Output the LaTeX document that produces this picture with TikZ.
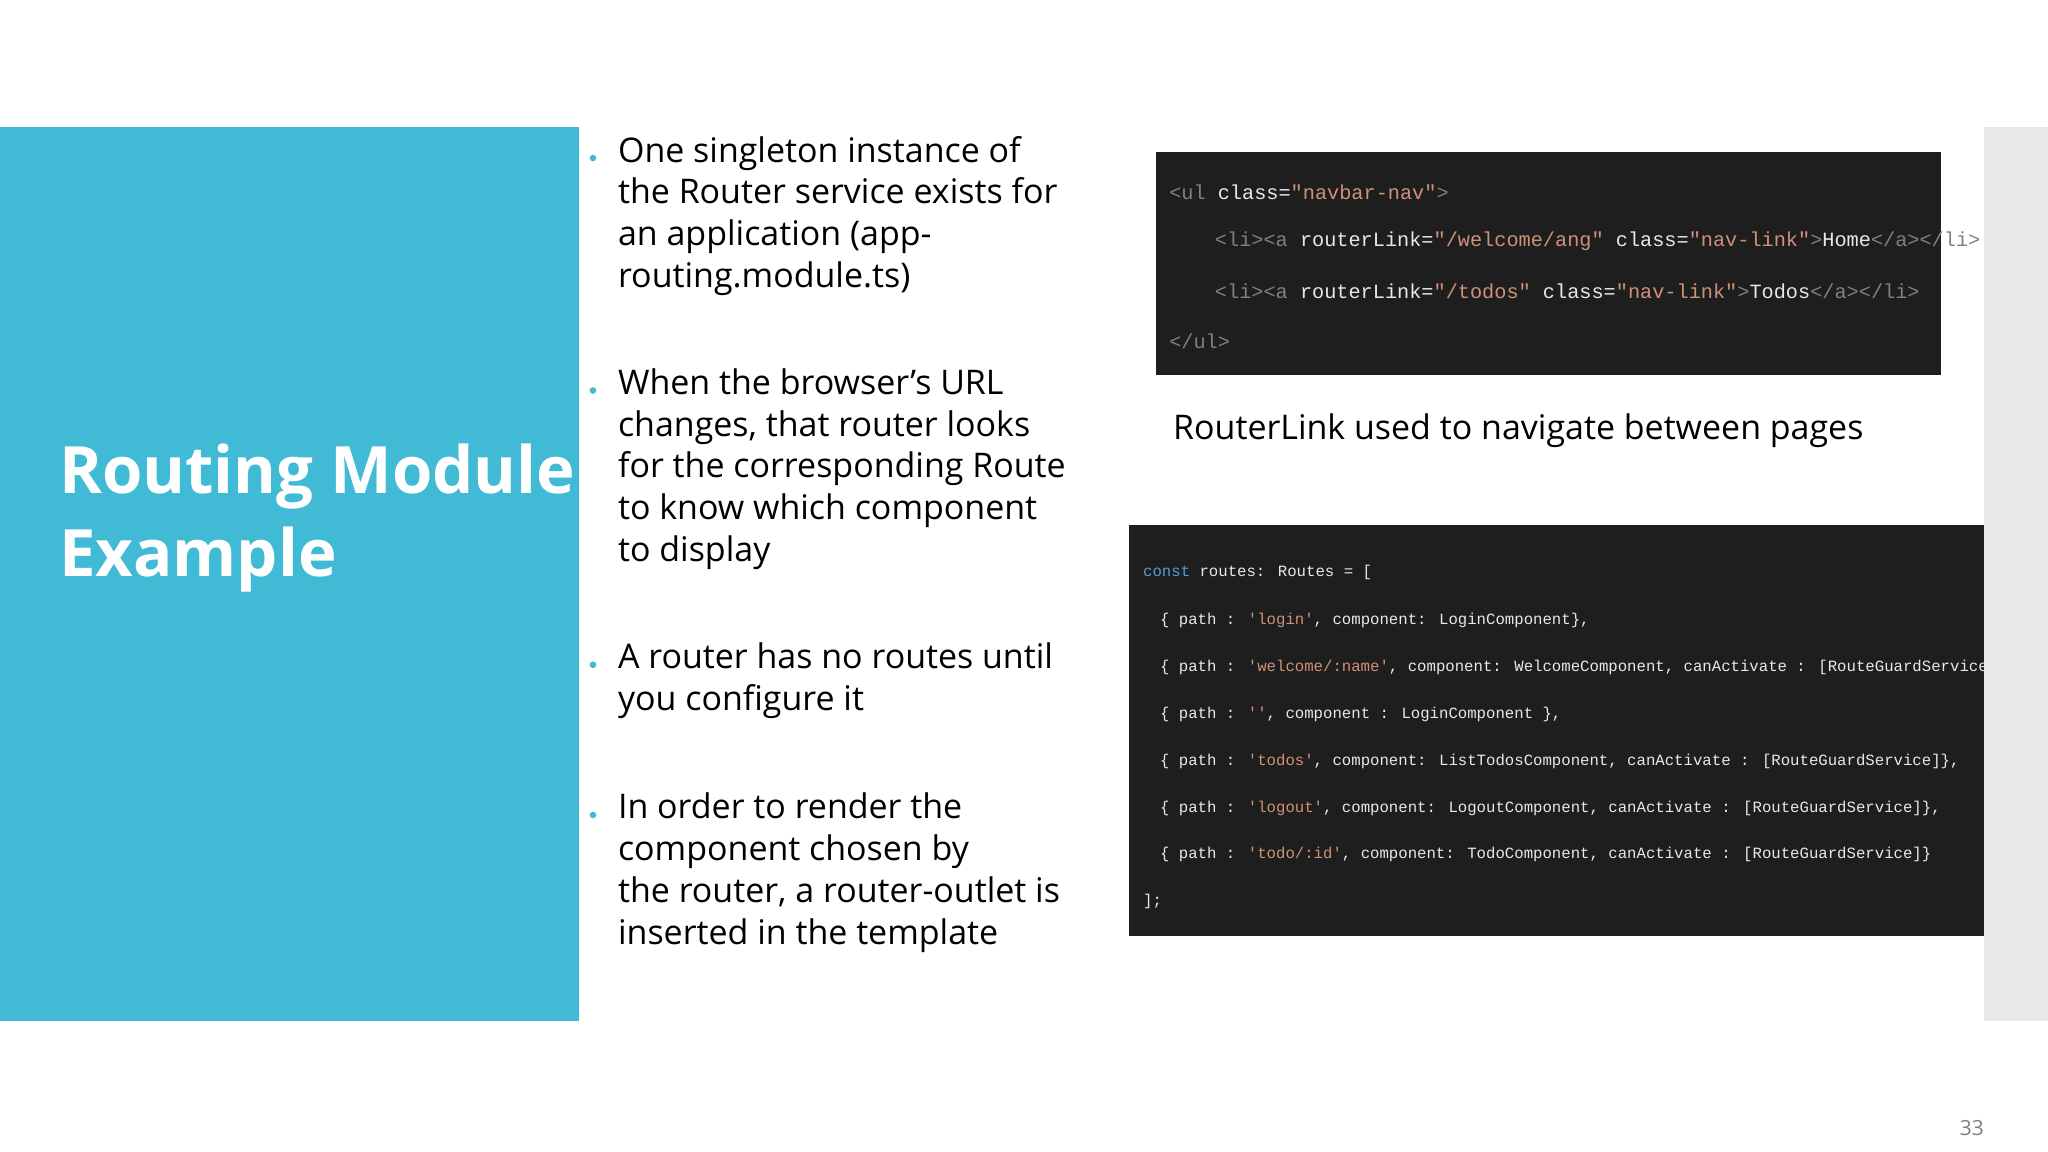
\documentclass[tikz,border=0pt]{standalone}
\usepackage{fontspec}
\setmainfont{Open Sans}
\newfontfamily\codefont{Liberation Mono}
\definecolor{teal1}{HTML}{40BAD5}
\definecolor{codebg}{HTML}{1E1E1E}
\definecolor{strc}{HTML}{CE9178}
\definecolor{tagc}{HTML}{808080}
\definecolor{kwc}{HTML}{569CD6}
\definecolor{txtc}{HTML}{E8E8E8}
\tikzset{
  bul/.style={anchor=north west,align=left,font=\fontsize{26}{32}\selectfont,inner sep=0pt},
  dot/.style={circle,fill=teal1,inner sep=1.8pt},
  code1/.style={anchor=west,inner sep=0pt,text=txtc,font=\codefont\fontsize{15.5}{18}\selectfont},
  code2/.style={anchor=west,inner sep=0pt,text=txtc,font=\codefont\fontsize{12}{14}\selectfont},
}
\begin{document}
\begin{tikzpicture}[x=1pt,y=-1pt]
\useasboundingbox (0,0) rectangle (1568,882);
\fill[white] (0,0) rectangle (1568,882);
\fill[teal1] (0,97) rectangle (443,782);
\fill[gray!18] (1519,97) rectangle (1568,782);
\node[anchor=north west,align=left,text=white,inner sep=0pt,font=\fontsize{50}{63}\selectfont\bfseries] (title) at (45,340) {Routing Module\\Example};
\node[dot] (d1) at (454,121) {};
\node[bul] (b1) at (473,104) {One singleton instance of\\the Router service exists for\\an application (app-\\routing.module.ts)};
\node[dot] (d2) at (454,299) {};
\node[bul] (b2) at (473,282) {When the browser's URL\\changes, that router looks\\for the corresponding Route\\to know which component\\to display};
\node[dot] (d3) at (454,509) {};
\node[bul] (b3) at (473,492) {A router has no routes until\\you configure it};
\node[dot] (d4) at (454,624) {};
\node[bul] (b4) at (473,607) {In order to render the\\component chosen by\\the router, a router-outlet is\\inserted in the template};
\fill[codebg] (885,116) rectangle (1486,287);
\node[code1] (c1) at (895,147) {\textcolor{tagc}{<ul} class=\textcolor{strc}{"navbar-nav"}\textcolor{tagc}{>}};
\node[code1] (c2) at (930,185) {\textcolor{tagc}{<li><a} routerLink=\textcolor{strc}{"/welcome/ang"} class=\textcolor{strc}{"nav-link"}\textcolor{tagc}{>}Home\textcolor{tagc}{</a></li>}};
\node[code1] (c3) at (930,223) {\textcolor{tagc}{<li><a} routerLink=\textcolor{strc}{"/todos"} class=\textcolor{strc}{"nav-link"}\textcolor{tagc}{>}Todos\textcolor{tagc}{</a></li>}};
\node[code1] (c4) at (895,261) {\textcolor{tagc}{</ul>}};
\node[anchor=west,inner sep=0pt,font=\fontsize{26}{32}\selectfont] (cap) at (898,330) {RouterLink used to navigate between pages};
\fill[codebg] (864,402) rectangle (1519,717);
\node[code2] (r1) at (875,438) {\textcolor{kwc}{const} routes: Routes = [};
\node[code2] (r2) at (888,475) {\{ path : \textcolor{strc}{'login'}, component: LoginComponent\},};
\node[code2] (r3) at (888,511) {\{ path : \textcolor{strc}{'welcome/:name'}, component: WelcomeComponent, canActivate : [RouteGuardService]\},};
\node[code2] (r4) at (888,547) {\{ path : \textcolor{strc}{''}, component : LoginComponent \},};
\node[code2] (r5) at (888,583) {\{ path : \textcolor{strc}{'todos'}, component: ListTodosComponent, canActivate : [RouteGuardService]\},};
\node[code2] (r6) at (888,619) {\{ path : \textcolor{strc}{'logout'}, component: LogoutComponent, canActivate : [RouteGuardService]\},};
\node[code2] (r7) at (888,654) {\{ path : \textcolor{strc}{'todo/:id'}, component: TodoComponent, canActivate : [RouteGuardService]\}};
\node[code2] (r8) at (875,690) {];};
\node[anchor=east,inner sep=0pt,text=gray,font=\fontsize{16}{18}\selectfont] (pg) at (1519,864) {33};
\end{tikzpicture}
\end{document}
